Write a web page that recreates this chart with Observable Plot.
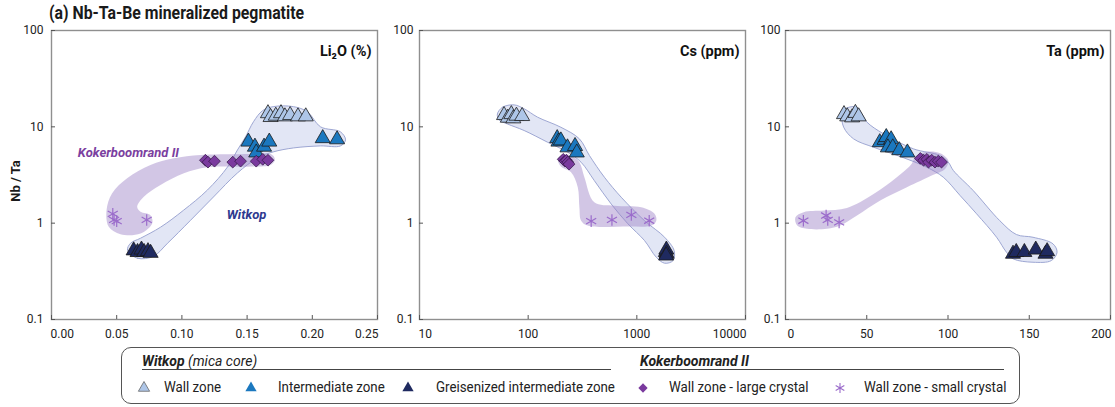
<!DOCTYPE html>
<html><head><meta charset="utf-8">
<script src="https://cdn.jsdelivr.net/npm/d3@7"></script>
<script src="https://cdn.jsdelivr.net/npm/@observablehq/plot@0.6"></script>
<style>
body{margin:0;background:#fff;font-family:Roboto,"Open Sans",sans-serif;color:#222}
#wrap{position:relative;width:1115px;height:407px;overflow:hidden;background:#fff}
.panel{position:absolute;top:0}
#title{position:absolute;left:49px;top:2px;font-weight:bold;font-size:18px;white-space:nowrap;color:#1a1a1a;transform:scaleX(0.88);transform-origin:left top;font-family:"Liberation Sans Narrow",Roboto,sans-serif}
#ylab{position:absolute;left:15px;top:181px;font-weight:bold;font-size:13px;white-space:nowrap;transform:translate(-50%,-50%) rotate(-90deg);color:#1a1a1a}
#legend{position:absolute;left:121px;top:347px;width:899px;height:57px;border:1.4px solid #555;border-radius:10px;box-sizing:border-box}
#legend .hd{position:absolute;top:5px;font-size:14px;font-style:italic;white-space:nowrap}
#legend .ul{position:absolute;top:21px;height:0;border-top:1.2px solid #444}
#legend .it{position:absolute;top:31px;font-size:14px;white-space:nowrap;transform:scaleX(0.95);transform-origin:left top}
#legend svg{position:absolute;overflow:visible}
</style></head>
<body><div id="wrap">
<div id="title">(a) Nb-Ta-Be mineralized pegmatite</div>
<div id="ylab">Nb / Ta</div>
<div id="legend"></div>
</div>
<script>
// ---------- data: Nb/Ta vs Li2O (%) ----------
const liWall  = [[0.166,13.8],[0.168,12.6],[0.172,13.0],[0.176,13.8],[0.179,12.8],[0.183,13.2],[0.189,12.8],[0.195,12.8]];
const liInter = [[0.151,7.0],[0.156,6.2],[0.157,5.4],[0.163,6.2],[0.167,7.0],[0.208,7.6],[0.219,7.4]];
const liGreis = [[0.063,0.52],[0.066,0.50],[0.069,0.53],[0.071,0.50],[0.074,0.51],[0.076,0.49]];
const liLarge = [[0.118,4.5],[0.120,4.3],[0.125,4.4],[0.139,4.3],[0.145,4.4],[0.157,4.4],[0.162,4.6],[0.166,4.5]];
const liSmall = [[0.047,1.25],[0.048,1.08],[0.050,1.05],[0.073,1.08]];
const liEnvW = [[0.0583,0.523],[0.066,0.432],[0.0782,0.453],[0.089,0.619],[0.1066,1.07],[0.1242,1.87],[0.1426,3.32],[0.158,4.75],[0.170,5.49],[0.1856,6.04],[0.2063,6.34],[0.2216,6.34],[0.2255,7.32],[0.2216,8.87],[0.2063,10],[0.1963,14.3],[0.1856,16.2],[0.170,16.2],[0.1618,14.7],[0.1549,11.3],[0.1488,7.87],[0.1426,5.75],[0.135,3.83],[0.1196,2.21],[0.1012,1.36],[0.0836,0.908],[0.0683,0.698],[0.0606,0.619]];
const liEnvK = [[0.1705,4.91],[0.168,5.23],[0.145,5.20],[0.1143,5.11],[0.0938,4.72],[0.0759,4.02],[0.058,2.92],[0.0465,2.04],[0.0422,1.36],[0.0439,0.916],[0.0529,0.768],[0.0683,0.782],[0.0772,0.993],[0.0759,1.21],[0.0683,1.31],[0.0657,1.48],[0.0708,1.88],[0.0836,2.49],[0.1015,3.29],[0.1194,3.80],[0.150,3.86],[0.168,4.02],[0.1712,4.46]];
const liNotes = [{x:0.059,y:5.36,t:"Kokerboomrand II",c:"#7b3fa0"},{x:0.1496,y:1.21,t:"Witkop",c:"#2e3a8f"}];
const liTicks = [0,0.05,0.10,0.15,0.20,0.25];

// ---------- data: Nb/Ta vs Cs (ppm) ----------
const csWall  = [[60,13.2],[65,12.4],[70,13.5],[73,12.2],[78,13.0],[88,12.9]];
const csInter = [[185,7.6],[190,7.0],[200,7.2],[230,6.1],[270,6.3],[280,5.4]];
const csGreis = [[1850,0.50],[1870,0.53],[1880,0.48],[1860,0.46]];
const csLarge = [[210,4.6],[218,4.4],[225,4.5],[232,4.3],[238,4.1]];
const csSmall = [[380,1.05],[590,1.08],[890,1.22],[1300,1.06]];
const csEnvW = [[52.1,13.6],[58.1,16.0],[74.3,16.9],[91.8,15.4],[122,12.6],[200,9.9],[296,7.5],[366,5.04],[503,3.0],[718,1.86],[1178,1.06],[1802,0.714],[2203,0.519],[2155,0.409],[1802,0.384],[1510,0.443],[1178,0.659],[828,0.984],[581,1.58],[406,2.77],[307,4.29],[231,5.45],[151,6.92],[91.8,9.16],[64.6,10.7],[54.0,11.8]];
const csEnvK = [[187,4.65],[208,5.16],[248,5.04],[296,4.29],[329,3.0],[406,1.65],[622,1.52],[1099,1.46],[1456,1.25],[1510,1.06],[1358,0.944],[828,0.922],[353,0.944],[307,1.06],[296,1.46],[286,2.36],[248,3.38],[200,3.87]];
const csTicks = [10,100,1000,10000];

// ---------- data: Nb/Ta vs Ta (ppm) ----------
const taWall  = [[36,13.5],[38,12.8],[41,12.5],[43,13.9],[45,12.8]];
const taInter = [[58,6.9],[61,7.3],[62,7.8],[65,7.4],[63,6.1],[66,6.1],[70,5.7],[75,5.4]];
const taGreis = [[140,0.48],[142,0.50],[147,0.50],[154,0.53],[160,0.48],[161,0.51]];
const taLarge = [[83,4.7],[85,4.5],[87,4.6],[88,4.3],[90,4.5],[92,4.3],[94,4.4],[96,4.3]];
const taSmall = [[11,1.06],[25,1.2],[26,1.08],[33,1.02]];
const taEnvW = [[34.8,13.6],[37.8,15.7],[44.0,16.0],[47.0,13.6],[50.1,11.2],[60.3,8.46],[78.7,5.91],[95.1,5.04],[100.2,4.29],[103.3,3.52],[115.5,2.18],[131.9,1.06],[142.1,0.762],[152.3,0.714],[164.6,0.61],[167.1,0.499],[163.6,0.409],[152.3,0.393],[140.1,0.426],[136.0,0.499],[129.9,0.714],[117.6,1.25],[107.4,1.94],[97.1,3.0],[86.9,3.81],[70.6,4.92],[54.2,6.14],[41.9,7.5],[35.8,9.91]];
const taEnvK = [[79.8,4.92],[86.9,5.5],[95.1,5.32],[100.2,4.47],[98.2,3.66],[91.0,3.18],[74.7,2.36],[58.3,1.72],[44.0,1.20],[33.7,0.944],[25.6,0.873],[13.3,0.873],[7.2,0.944],[6.1,1.15],[11.2,1.30],[23.5,1.35],[37.8,1.44],[54.2,2.01],[68.5,3.0],[77.7,4.13]];
const taTicks = [0,50,100,150,200];

const yTicks = [0.1,1,10,100];
const COL = {wall:"#aec6e8", inter:"#1b78bf", greis:"#1f2a60", large:"#7a3a9e", small:"#9b6ccb"};

function makePanel(c){
  const H = 350, mt = 30, mb = 31;
  const iw = c.width - c.ml - c.mr, ih = H - mt - mb;
  const xy = {x: d => d[0], y: d => d[1]};
  const tri = (data, fill) => Plot.dot(data, {...xy, symbol:"triangle", r:5.6, fill, stroke:"#1a1a1a", strokeWidth:0.8});
  const first = c.xTicks[0], last = c.xTicks[c.xTicks.length - 1];
  const lab = {fontSize:12, fill:"#222", lineAnchor:"top", dy:10};
  const marks = [
    Plot.line(c.envW, {...xy, curve:"catmull-rom-closed", fill:"#dfe3f4", fillOpacity:0.9, stroke:"#9ea7d3", strokeWidth:1}),
    Plot.line(c.envK, {...xy, curve:"catmull-rom-closed", fill:"#9c80c6", fillOpacity:0.45, stroke:"none"}),
    Plot.frame({stroke:"#8f8f8f", strokeWidth:1.4}),
    Plot.ruleX(c.xTicks, {x: d => d, insetTop: ih - 4, stroke:"#555"}),
    Plot.ruleY(yTicks, {y: d => d, insetRight: iw - 4, stroke:"#555"}),
    Plot.axisX({ticks:c.xTicks.slice(1, -1), tickFormat:c.fmt, tickSize:0, tickPadding:10, label:null, fontSize:12, fill:"#222"}),
    Plot.text([first], {...lab, text: d => c.fmt(d), frameAnchor:"bottom-left", textAnchor:"start", dx:c.firstDx}),
    Plot.text([last], {...lab, text: d => c.fmt(d), frameAnchor:"bottom-right", textAnchor:"end", dx:1}),
    Plot.axisY({ticks:yTicks, tickFormat: d => String(d), tickSize:0, tickPadding:c.yPad, label:null, fontSize:12, fill:"#222"}),
    tri(c.greis, COL.greis),
    tri(c.wall, COL.wall),
    tri(c.inter, COL.inter),
    Plot.dot(c.large, {...xy, symbol:"diamond2", r:5.3, fill:COL.large, stroke:"#2e1440", strokeWidth:0.7}),
    Plot.dot(c.small, {...xy, symbol:"asterisk", r:5.5, fill:"none", stroke:COL.small, strokeWidth:1.2}),
    Plot.text([c.label], {text: d => d, frameAnchor:"top-right", textAnchor:"end", dx:-6, dy:15, fontWeight:"bold", fontSize:14.5, fill:"#111"})
  ];
  if (c.notes) marks.push(Plot.text(c.notes, {x:"x", y:"y", text:"t", fill:"c", fontWeight:"bold", fontStyle:"italic", fontSize:13, fontFamily:'"Liberation Sans Narrow",Roboto,sans-serif'}));
  const p = Plot.plot({
    width:c.width, height:H, marginLeft:c.ml, marginRight:c.mr, marginTop:mt, marginBottom:mb,
    style:{background:"transparent", fontFamily:"Roboto, sans-serif", overflow:"visible"},
    x:{type:c.xType, domain:c.xDomain},
    y:{type:"log", domain:[0.1,100]},
    color:{type:"identity"},
    marks
  });
  p.classList.add("panel");
  p.style.left = c.left + "px";
  return p;
}

const wrap = document.getElementById("wrap");
wrap.appendChild(makePanel({left:0, width:389, ml:51, mr:12, yPad:8, firstDx:-1, xType:"linear", xDomain:[0,0.25], xTicks:liTicks, fmt:d3.format(".2f"),
  label:"Li₂O (%)", wall:liWall, inter:liInter, greis:liGreis, large:liLarge, small:liSmall, envW:liEnvW, envK:liEnvK, notes:liNotes}));
wrap.appendChild(makePanel({left:380, width:375, ml:39, mr:10, yPad:6, firstDx:-1, xType:"log", xDomain:[10,10000], xTicks:csTicks, fmt:d => String(d),
  label:"Cs (ppm)", wall:csWall, inter:csInter, greis:csGreis, large:csLarge, small:csSmall, envW:csEnvW, envK:csEnvK}));
wrap.appendChild(makePanel({left:745, width:370, ml:40, mr:5, yPad:5, firstDx:2, xType:"linear", xDomain:[0,200], xTicks:taTicks, fmt:d => String(d),
  label:"Ta (ppm)", wall:taWall, inter:taInter, greis:taGreis, large:taLarge, small:taSmall, envW:taEnvW, envK:taEnvK}));

// ---------- legend ----------
const legendHeads = [{x:20, w:469, html:'<b>Witkop</b> (mica core)'},{x:518, w:364, html:'<b>Kokerboomrand II</b>'}];
const legendItems = [
  {sx:22, tx:42, label:"Wall zone", sym:"triangle", fill:COL.wall, stroke:"#666"},
  {sx:129, tx:156, label:"Intermediate zone", sym:"triangle", fill:COL.inter, stroke:"none"},
  {sx:286, tx:314, label:"Greisenized intermediate zone", sym:"triangle", fill:COL.greis, stroke:"none"},
  {sx:521, tx:547, label:"Wall zone - large crystal", sym:"diamond2", fill:COL.large, stroke:"none"},
  {sx:718, tx:742, label:"Wall zone - small crystal", sym:"asterisk", fill:"none", stroke:COL.small}
];
const symMap = {triangle:d3.symbolTriangle, diamond2:d3.symbolDiamond2, asterisk:d3.symbolAsterisk};
const lg = d3.select("#legend");
legendHeads.forEach(h => {
  lg.append("div").attr("class","hd").style("left", h.x+"px").html(h.html);
  lg.append("div").attr("class","ul").style("left", h.x+"px").style("width", h.w+"px");
});
legendItems.forEach(it => {
  const s = lg.append("svg").attr("width",1).attr("height",1).style("left", it.sx+"px").style("top","40px");
  s.append("path").attr("d", d3.symbol(symMap[it.sym], it.sym==="asterisk"?70:55)())
    .attr("fill", it.fill).attr("stroke", it.stroke).attr("stroke-width", it.sym==="asterisk"?1.1:0.8);
  lg.append("div").attr("class","it").style("left", it.tx+"px").text(it.label);
});
</script>
</body></html>
